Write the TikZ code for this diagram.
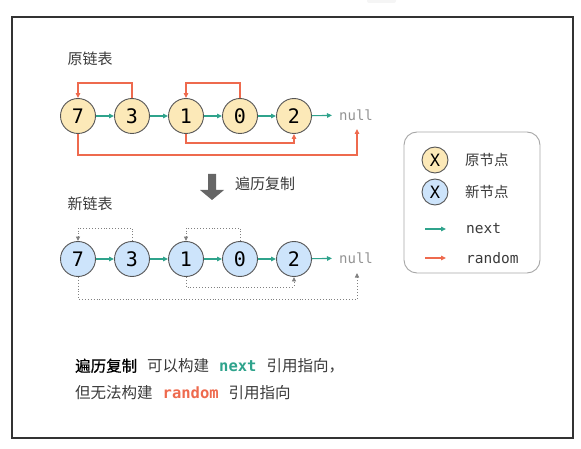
\documentclass[tikz,border=0pt]{standalone}
\usepackage{fontspec}
\setmainfont{Noto Sans CJK SC}
\newfontfamily\cjk{Noto Sans CJK SC}
\newfontfamily\cjkmed[FakeBold=0.7]{Noto Sans CJK SC}
\newfontfamily\monof{DejaVu Sans Mono}
\usetikzlibrary{arrows.meta}
\definecolor{nodeY}{HTML}{FCE9B8}
\definecolor{nodeB}{HTML}{CDE4FB}
\definecolor{teal}{HTML}{2FA38C}
\definecolor{rnd}{HTML}{EE6A4E}
\definecolor{edgeG}{HTML}{555555}
\definecolor{txtG}{HTML}{3A3A3A}
\tikzset{
  listnode/.style={circle, draw=edgeG, line width=0.9pt, minimum size=35pt, inner sep=0pt, font=\monof\fontsize{20}{20}\selectfont, text=black},
  orignode/.style={listnode, fill=nodeY},
  newnode/.style={listnode, fill=nodeB},
  legnode/.style={circle, draw=edgeG, line width=0.9pt, minimum size=26pt, inner sep=0pt, font=\monof\fontsize{17}{17}\selectfont},
  nullnode/.style={font=\monof\fontsize{14}{14}\selectfont, text=gray!85, inner sep=0pt, anchor=west},
  nextarrow/.style={draw=teal, line width=1.1pt, -{Triangle[length=5pt,width=4.5pt]}},
  rndarrow/.style={draw=rnd, line width=1.1pt, -{Triangle[length=5pt,width=4.5pt]}},
  graydot/.style={draw=gray, line width=0.9pt, dotted, -{Triangle[length=4.5pt,width=4pt]}},
  cjklabel/.style={font=\cjk\fontsize{15}{15}\selectfont, text=txtG, inner sep=0pt},
  legtext/.style={font=\cjk\fontsize{14.5}{14.5}\selectfont, text=txtG, inner sep=0pt, anchor=west},
  legmono/.style={font=\monof\fontsize{14.5}{14.5}\selectfont, text=txtG, inner sep=0pt, anchor=west},
  bottomtext/.style={anchor=west, inner sep=0pt, font=\cjk\fontsize{15.5}{15.5}\selectfont, text=txtG},
}
\begin{document}
\begin{tikzpicture}[x=1pt,y=-1pt]
\useasboundingbox (0,0) rectangle (581,449);
% faint tab at top
\fill[gray!8, rounded corners=2pt] (367,-4) rectangle (396,3);
% outer frame
\draw[draw=black!80, line width=1.6pt] (12,17) rectangle (573,438);

% labels
\node[cjklabel] (lab1) at (90,59) {原链表};
\node[cjklabel] (lab2) at (90,204) {新链表};

% original list
\node[orignode] (a7) at (78,116) {7};
\node[orignode] (a3) at (132,116) {3};
\node[orignode] (a1) at (186,116) {1};
\node[orignode] (a0) at (240,116) {0};
\node[orignode] (a2) at (294,116) {2};
\node[nullnode] (an) at (339,115) {null};
\coordinate (anb) at (357,129);
\draw[nextarrow] (a7) -- (a3);
\draw[nextarrow] (a3) -- (a1);
\draw[nextarrow] (a1) -- (a0);
\draw[nextarrow] (a0) -- (a2);
\draw[nextarrow, shorten >=7pt] (a2) -- (an);
\draw[rndarrow] (a3.north) -- (a3.north |- 0,83) -| (a7.north);
\draw[rndarrow] (a0.north) -- (a0.north |- 0,83) -| (a1.north);
\draw[rndarrow] (a1.south) -- (a1.south |- 0,143) -| (a2.south);
\draw[rndarrow] (a7.south) -- (a7.south |- 0,155) -| (anb);

% down arrow
\fill[black!60] (208,174) -- (216,174) -- (216,190) -- (224,190) -- (212,200) -- (200,190) -- (208,190) -- cycle;
\node[cjklabel] (copy) at (265,184) {遍历复制};

% new list
\node[newnode] (b7) at (78,259) {7};
\node[newnode] (b3) at (132,259) {3};
\node[newnode] (b1) at (186,259) {1};
\node[newnode] (b0) at (240,259) {0};
\node[newnode] (b2) at (294,259) {2};
\node[nullnode] (bn) at (339,258) {null};
\coordinate (bnb) at (357,273);
\draw[nextarrow] (b7) -- (b3);
\draw[nextarrow] (b3) -- (b1);
\draw[nextarrow] (b1) -- (b0);
\draw[nextarrow] (b0) -- (b2);
\draw[nextarrow, shorten >=7pt] (b2) -- (bn);
\draw[graydot] (b3.north) -- (b3.north |- 0,228) -| (b7.north);
\draw[graydot] (b0.north) -- (b0.north |- 0,228) -| (b1.north);
\draw[graydot] (b1.south) -- (b1.south |- 0,287) -| (b2.south);
\draw[graydot] (b7.south) -- (b7.south |- 0,299) -| (bnb);

% legend
\draw[draw=gray!70, line width=0.9pt, rounded corners=13pt] (404,132) rectangle (540,273);
\node[legnode, fill=nodeY] (lx1) at (435,160) {X};
\node[legnode, fill=nodeB] (lx2) at (435,192) {X};
\node[legtext] (lt1) at (465,160) {原节点};
\node[legtext] (lt2) at (465,192) {新节点};
\coordinate (ln1) at (425,229);
\coordinate (ln2) at (446,229);
\coordinate (lr1) at (425,258);
\coordinate (lr2) at (446,258);
\draw[nextarrow] (ln1) -- (ln2);
\draw[rndarrow] (lr1) -- (lr2);
\node[legmono] (lt3) at (466,229) {next};
\node[legmono] (lt4) at (466,258) {random};

% bottom text
\node[bottomtext] (t1) at (75,366)
  {{\cjkmed\color{black}遍历复制}\hspace{10pt}可以构建\hspace{10pt}{\monof\bfseries\color{teal}next}\hspace{10pt}引用指向，};
\node[bottomtext] (t2) at (75,393)
  {但无法构建\hspace{10pt}{\monof\bfseries\color{rnd}random}\hspace{10pt}引用指向};
\end{tikzpicture}
\end{document}
